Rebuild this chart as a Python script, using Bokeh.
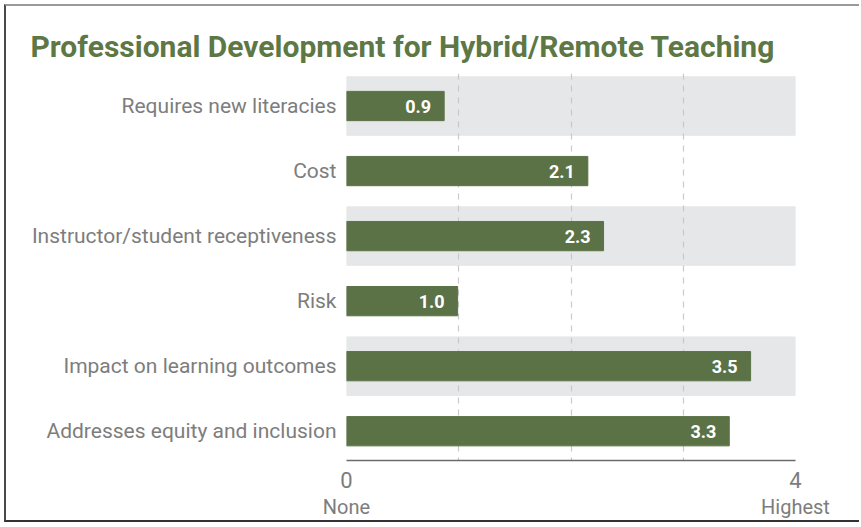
from bokeh.plotting import figure
from bokeh.models import Range1d, FixedTicker, LinearAxis, ColumnDataSource
from bokeh.core.properties import value
from bokeh.embed import file_html
from bokeh.resources import INLINE

categories = ["Requires new literacies", "Cost", "Instructor/student receptiveness",
              "Risk", "Impact on learning outcomes", "Addresses equity and inclusion"]
bar_lengths = [0.87, 2.15, 2.29, 0.99, 3.6, 3.41]   # bar ends as drawn in the picture
value_labels = ["0.9", "2.1", "2.3", "1.0", "3.5", "3.3"]  # printed values
x_tick_values = [0, 4]
x_tick_labels = ["0", "4"]
x_tick_names = ["None", "Highest"]
title_text = "Professional Development for Hybrid/Remote Teaching"

FONT = "Roboto"
GREEN = "#5b7247"
GRAY_TEXT = "#7d7d7d"

rows = list(range(len(categories)))
band_rows = rows[0::2]

p = figure(width=855, height=518, output_backend="svg", toolbar_location=None,
           x_range=Range1d(0, 4), y_range=Range1d(5.45, -0.5),
           min_border_left=340, min_border_right=66, min_border_top=67, min_border_bottom=64,
           title=title_text)
p.styles = {"margin-left": "4px", "margin-top": "4px",
            "border-left": "2px solid #4a4a4a", "border-top": "2px solid #9a9a9a",
            "border-bottom": "2px solid #333333", "border-right": "none",
            "outline": "none", "box-shadow": "none"}
p.outline_line_color = None
p.background_fill_color = "white"
p.border_fill_color = "white"

p.title.align = "left"
p.title.offset = -316
p.title.text_font = FONT
p.title.text_font_style = "bold"
p.title.text_font_size = "30px"
p.title.text_color = "#5d7745"
p.title.standoff = 19

# bands
bands = p.hbar(y=band_rows, left=0, right=4, height=0.9, color="#e6e7e8")
bands.level = "image"

src = ColumnDataSource(dict(y=rows, x=bar_lengths, lab=value_labels))
p.hbar(y="y", left=0, right="x", height=0.45, color=GREEN, source=src)
p.text(x="x", y="y", text="lab", source=src, x_offset=-13, text_align="right",
       text_baseline="middle", text_color="white", text_font=value(FONT),
       text_font_style="bold", text_font_size="18px")

# grid
p.ygrid.visible = False
p.xgrid.ticker = FixedTicker(ticks=[1, 2, 3, 4])
p.xgrid.grid_line_color = "#c9c9c9"
p.xgrid.grid_line_dash = "6 6"
p.xgrid.grid_line_width = 1.2

# y axis
p.yaxis.ticker = FixedTicker(ticks=rows)
p.yaxis.major_label_overrides = {i: c for i, c in enumerate(categories)}
p.yaxis.axis_line_color = None
p.yaxis.major_tick_line_color = None
p.yaxis.minor_tick_line_color = None
p.yaxis.major_label_standoff = 4
p.yaxis.major_label_text_font = FONT
p.yaxis.major_label_text_font_size = "21px"
p.yaxis.major_label_text_color = GRAY_TEXT

# x axis
p.xaxis.ticker = FixedTicker(ticks=x_tick_values)
p.xaxis.major_label_overrides = dict(zip(x_tick_values, x_tick_labels))
p.xaxis.axis_line_color = "#6b6b6b"
p.xaxis.axis_line_width = 1.5
p.xaxis.major_tick_line_color = None
p.xaxis.minor_tick_line_color = None
p.xaxis.major_label_standoff = 5
p.xaxis.major_label_text_font = FONT
p.xaxis.major_label_text_font_size = "22px"
p.xaxis.major_label_text_color = GRAY_TEXT

ax2 = LinearAxis(ticker=FixedTicker(ticks=x_tick_values),
                 major_label_overrides=dict(zip(x_tick_values, x_tick_names)))
ax2.axis_line_color = None
ax2.major_tick_line_color = None
ax2.minor_tick_line_color = None
ax2.major_label_standoff = -2
ax2.major_label_text_font = FONT
ax2.major_label_text_font_size = "20px"
ax2.major_label_text_color = GRAY_TEXT
p.add_layout(ax2, "below")

open("out.html", "w").write(file_html(p, INLINE))
